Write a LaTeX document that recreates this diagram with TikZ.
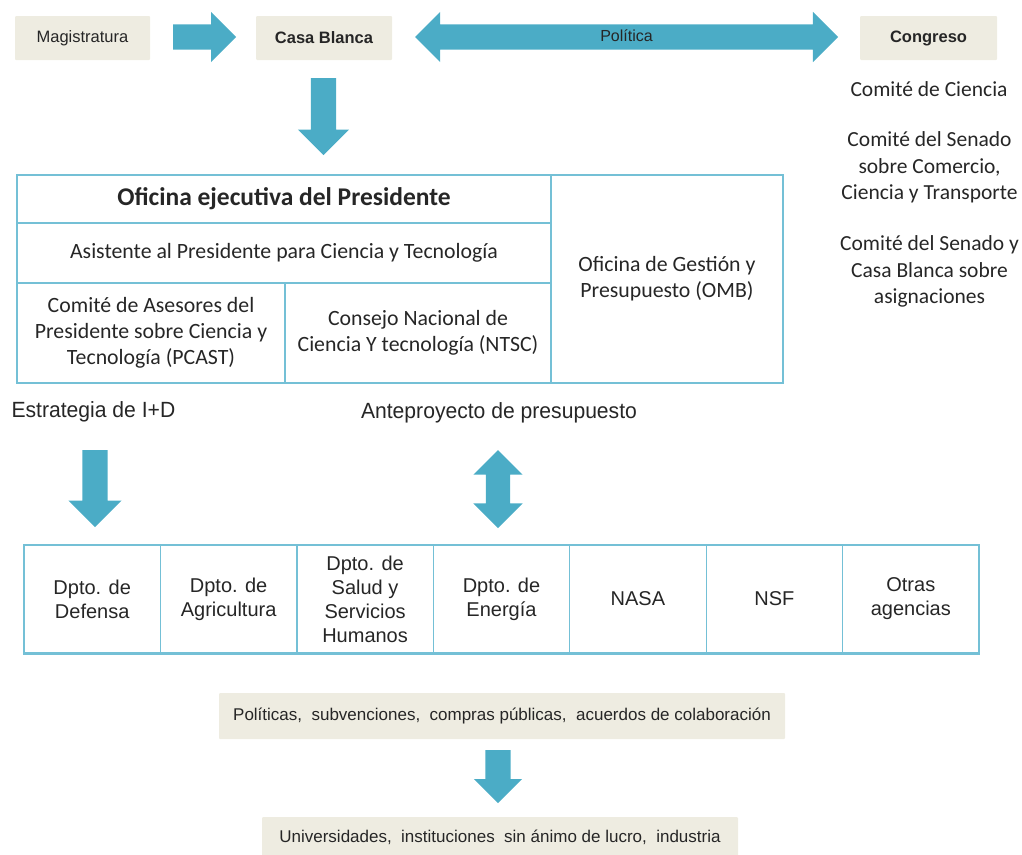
\documentclass[tikz,border=0pt]{standalone}
\usepackage{fontspec}
\setmainfont{Carlito}
\newfontfamily\helv{Liberation Sans}
\newfontfamily\helvcond[FakeStretch=0.96]{Liberation Sans}
\usetikzlibrary{shapes.arrows,positioning}

\definecolor{tan}{HTML}{EEECE1}
\definecolor{flecha}{HTML}{4BACC6}
\definecolor{linea}{HTML}{74C0D6}
\definecolor{texto}{HTML}{262626}

\begin{document}
\begin{tikzpicture}[x=1pt,y=-1pt,on grid,text=texto,
  caja/.style={fill=tan,rounded corners=1pt,minimum height=44pt,inner sep=0pt,font=\helv\fontsize{16.5}{18}\selectfont},
  celda/.style={draw=linea,line width=1.3pt,align=center,inner sep=0pt,font=\fontsize{21.8}{26}\selectfont},
  agencia/.style={draw=linea,line width=1.3pt,align=center,inner sep=0pt,minimum width=136.43pt,minimum height=108pt,font=\helv\fontsize{20}{24}\selectfont},
  comite/.style={align=center,font=\fontsize{21.5}{26.5}\selectfont},
  flechaS/.style={single arrow,fill=flecha,inner sep=0pt,inner ysep=12.5pt,single arrow head extend=12.5pt,single arrow tip angle=90,anchor=tail},
  flechaD/.style={double arrow,fill=flecha,inner xsep=0pt,double arrow head extend=12.5pt,double arrow tip angle=90}]
  \useasboundingbox (0,0) rectangle (1022,854);

  % fila superior
  \node[caja,minimum width=135pt] (mag) at (82.5,38) {Magistratura};
  \node[caja,minimum width=136pt,font=\helv\bfseries\fontsize{16.5}{18}\selectfont] (casa) [right=241.5pt of mag] {Casa Blanca};
  \node[caja,minimum width=137pt,font=\helv\bfseries\fontsize{16.5}{18}\selectfont] (cong) [right=604.5pt of casa] {Congreso};
  \node[flechaS,minimum height=63pt] (fl_1) at (173,37) {};
  \node[flechaD,minimum height=423pt,text height=11.5pt,text depth=3.5pt,inner ysep=5pt,font=\helv\fontsize{16}{18}\selectfont] (pol) at (626.5,37) {Política};
  \node[flechaS,minimum height=77pt,single arrow head extend=13pt,rotate=-90] (fl_2) at (323.5,78) {};

  % comisiones del congreso
  \node[comite] (com_1) at (929,89) {Comité de Ciencia};
  \node[comite] (com_2) at (929.5,167.5) {Comité del Senado\\sobre Comercio,\\Ciencia y Transporte};
  \node[comite] (com_3) at (929.5,271.5) {Comité del Senado y\\Casa Blanca sobre\\asignaciones};

  % oficina ejecutiva
  \node[celda,minimum width=534pt,minimum height=48pt,font=\bfseries\fontsize{25.5}{28}\selectfont] (ofi_0) at (284,199) {Oficina ejecutiva del Presidente};
  \node[celda,minimum width=534pt,minimum height=60pt] (ofi_1) at (284,253) {Asistente al Presidente para Ciencia y Tecnología};
  \node[celda,minimum width=268pt,minimum height=100pt] (ofi_2) at (151,333) {Comité de Asesores del\\Presidente sobre Ciencia y\\Tecnología (PCAST)};
  \node[celda,minimum width=266pt,minimum height=100pt] (ofi_3) at (418,333) {Consejo Nacional de\\Ciencia Y tecnología (NTSC)};
  \node[celda,minimum width=232pt,minimum height=208pt] (omb) at (667,279) {Oficina de Gestión y\\Presupuesto (OMB)};

  \node[anchor=west,font=\helvcond\fontsize{22}{24}\selectfont] (estr) at (8,412) {Estrategia de I+D};
  \node[font=\helvcond\fontsize{22}{24}\selectfont] (ante) at (499,413) {Anteproyecto de presupuesto};
  \node[flechaS,minimum height=77pt,single arrow head extend=14pt,rotate=-90] (fl_3) at (95,450) {};
  \node[flechaD,minimum height=78pt,inner ysep=12pt,rotate=90] (fl_4) at (498,489) {};

  % agencias
  \foreach \nombre [count=\i] in {Dpto. de\\Defensa,Dpto. de\\Agricultura,Dpto. de\\Salud y\\Servicios\\Humanos,Dpto. de\\Energía,NASA,NSF,Otras\\agencias}
    \node[agencia] (dep_\i) at (24+136.43*\i-68.215,599) {\nombre};
  \draw[linea,line width=3pt] (dep_1.south west) -- (dep_7.south east);

  % destino
  \node[caja,minimum width=566pt,minimum height=46pt,font=\helv\fontsize{17}{18}\selectfont] (pols) at (502,716) {Políticas,\ \ subvenciones,\ \ compras públicas,\ \ acuerdos de colaboración};
  \node[flechaS,minimum height=53pt,single arrow head extend=11.5pt,rotate=-90] (fl_5) at (498,750) {};
  \node[caja,minimum width=476pt,minimum height=40pt,font=\helv\fontsize{17}{18}\selectfont] (univ) at (500,837) {Universidades,\ \ instituciones\ \ sin ánimo de lucro,\ \ industria};
\end{tikzpicture}
\end{document}
